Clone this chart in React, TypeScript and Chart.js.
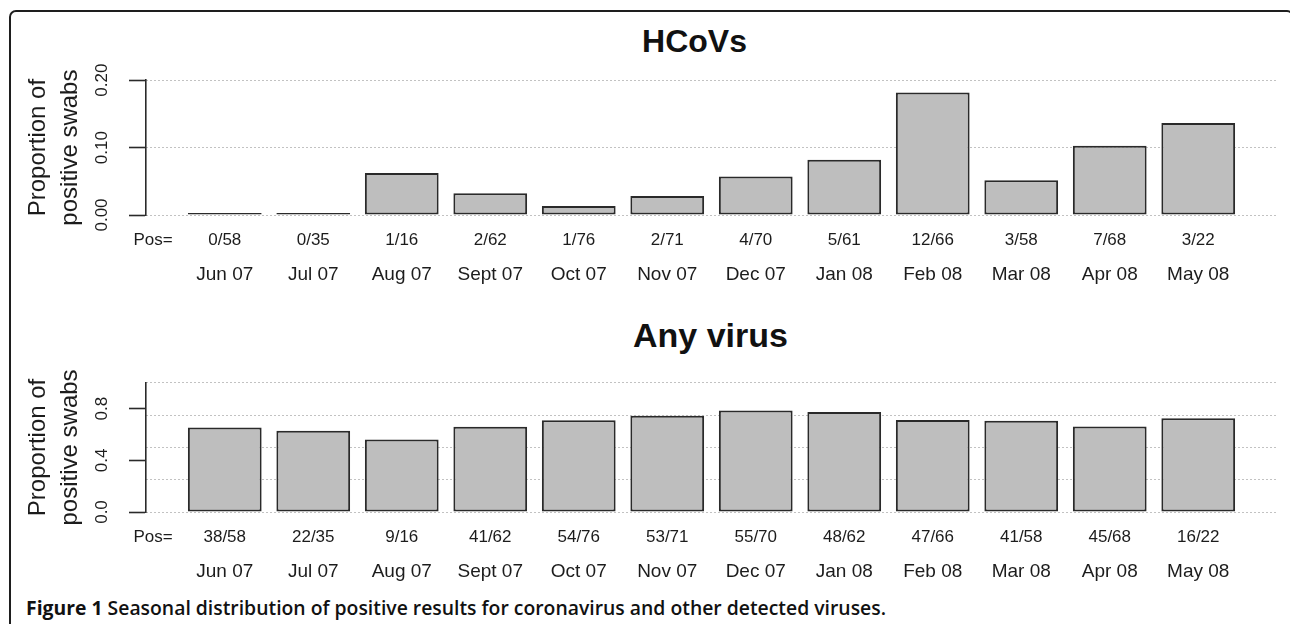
import React, { useEffect, useLayoutEffect, useRef } from "react";
import { Chart, registerables } from "chart.js";

Chart.register(...registerables);

// ---------- data ----------
const MONTHS = ["Jun 07", "Jul 07", "Aug 07", "Sept 07", "Oct 07", "Nov 07", "Dec 07", "Jan 08", "Feb 08", "Mar 08", "Apr 08", "May 08"];

const HCOV_POS = ["0/58", "0/35", "1/16", "2/62", "1/76", "2/71", "4/70", "5/61", "12/66", "3/58", "7/68", "3/22"];
const HCOV_VALUES = [0, 0, 0.0625, 0.0323, 0.0132, 0.0282, 0.0571, 0.082, 0.1818, 0.0517, 0.1029, 0.1364];
const HCOV_Y_LABELS = ["0.00", "", "0.10", "", "0.20"];

const ANY_POS = ["38/58", "22/35", "9/16", "41/62", "54/76", "53/71", "55/70", "48/62", "47/66", "41/58", "45/68", "16/22"];
const ANY_VALUES = [0.655, 0.629, 0.5625, 0.661, 0.711, 0.746, 0.786, 0.774, 0.712, 0.707, 0.662, 0.727];
const ANY_Y_LABELS = ["0.0", "", "0.4", "", "0.8", ""];

const POS_PREFIX = "Pos=";
const Y_TITLE = ["Proportion of", "positive swabs"];
const CAPTION_BOLD = "Figure 1";
const CAPTION_TEXT = " Seasonal distribution of positive results for coronavirus and other detected viruses.";

// ---------- layout / style ----------
const FONT = "'Liberation Sans', Arial, Helvetica, sans-serif";
const INK = "#1c1c1c";
const BAR_FILL = "#bebebe";
const BAR_EDGE = "#2a2a2a";
const GRID = "#c2c2c2";
const X_MIN = -0.89;
const X_MAX = 11.89;
const POS_LABEL_X = -0.81;

type PanelProps = {
  values: number[];
  posLabels: string[];
  yMax: number;
  yStep: number;
  yLabels: string[];
  gridStep: number;
  yTickPadding: number;
  top: number;
  height: number;
};

function BarPanel(p: PanelProps) {
  const ref = useRef<HTMLCanvasElement>(null);
  useEffect(() => {
    const chart = new Chart(ref.current as HTMLCanvasElement, {
      type: "bar",
      data: {
        datasets: [
          {
            data: p.values.map((v, i) => ({ x: i, y: v })),
            xAxisID: "x",
            yAxisID: "y",
            backgroundColor: BAR_FILL,
            borderColor: BAR_EDGE,
            borderWidth: 2,
            borderSkipped: false,
            minBarLength: 2,
            barPercentage: 1 / 1.2,
            categoryPercentage: 1,
          } as any,
        ],
      },
      options: {
        responsive: false,
        animation: false,
        layout: { padding: { top: 20, left: 0, right: 13, bottom: 0 } },
        plugins: { legend: { display: false }, tooltip: { enabled: false }, title: { display: false } },
        scales: {
          xPos: {
            type: "linear",
            axis: "x",
            position: "bottom",
            weight: 1,
            offset: false,
            min: X_MIN,
            max: X_MAX,
            grid: { display: false, drawTicks: false, offset: false },
            border: { display: false },
            afterBuildTicks: (s: any) => {
              s.ticks = [{ value: POS_LABEL_X }, ...p.posLabels.map((_, i) => ({ value: i }))];
            },
            afterFit: (s: any) => {
              s.height = 40;
            },
            ticks: {
              autoSkip: false,
              maxRotation: 0,
              minRotation: 0,
              padding: 17,
              color: INK,
              font: { family: FONT, size: 17, lineHeight: 1 },
              callback: (_v: any, i: number) => (i === 0 ? POS_PREFIX : p.posLabels[i - 1]),
            },
          },
          x: {
            type: "linear",
            position: "bottom",
            weight: 2,
            offset: false,
            min: X_MIN,
            max: X_MAX,
            grid: { display: false, drawTicks: false, offset: false },
            border: { display: false },
            afterBuildTicks: (s: any) => {
              s.ticks = MONTHS.map((_, i) => ({ value: i }));
            },
            afterFit: (s: any) => {
              s.height = 40;
            },
            ticks: {
              autoSkip: false,
              maxRotation: 0,
              minRotation: 0,
              padding: 10,
              color: INK,
              font: { family: FONT, size: 19, lineHeight: 1 },
              callback: (_v: any, i: number) => MONTHS[i],
            },
          },
          y: {
            type: "linear",
            position: "left",
            min: 0,
            max: p.yMax,
            ticks: {
              stepSize: p.yStep,
              minRotation: 90,
              maxRotation: 90,
              crossAlign: "center",
              padding: p.yTickPadding,
              color: INK,
              font: { family: FONT, size: 17, lineHeight: 1.2 },
              callback: (_v: any, i: number) => p.yLabels[i] ?? "",
            },
            grid: {
              drawOnChartArea: false,
              drawTicks: true,
              tickLength: 17,
              tickColor: BAR_EDGE,
              tickWidth: 1.6,
            },
            border: { display: true, color: BAR_EDGE, width: 1.6 },
            title: {
              display: true,
              text: Y_TITLE,
              color: INK,
              font: { family: FONT, size: 24, lineHeight: 1.354 },
              padding: { top: 22, bottom: 0 },
            },
            afterFit: (s: any) => {
              s.width = 146;
            },
          },
          y2: {
            type: "linear",
            position: "right",
            min: 0,
            max: p.yMax,
            ticks: { display: false, stepSize: p.gridStep },
            grid: { drawTicks: false, color: GRID, lineWidth: 1 },
            border: { display: false, dash: [2, 2] },
          },
        },
      } as any,
    });
    return () => chart.destroy();
  }, []);
  return (
    <canvas
      ref={ref}
      width={1290}
      height={p.height}
      style={{ position: "absolute", left: 0, top: p.top, width: 1290, height: p.height, display: "block" }}
    />
  );
}

function Caption() {
  const ref = useRef<HTMLSpanElement>(null);
  useLayoutEffect(() => {
    const el = ref.current;
    if (!el) return;
    const w = el.getBoundingClientRect().width;
    if (w > 0) el.style.transform = `scaleX(${860 / w})`;
  }, []);
  return (
    <div
      style={{
        position: "absolute",
        left: 26,
        top: 597.5,
        whiteSpace: "nowrap",
        fontFamily: "'Open Sans', 'Noto Sans', sans-serif",
        fontSize: 19.6,
        lineHeight: 1,
        color: "#111",
      }}
    >
      <span ref={ref} style={{ display: "inline-block", transformOrigin: "left center" }}>
        <span style={{ fontWeight: 700 }}>{CAPTION_BOLD}</span>
        <span style={{ fontWeight: 600 }}>{CAPTION_TEXT}</span>
      </span>
    </div>
  );
}

export default function App() {
  return (
    <div
      style={{
        position: "fixed",
        left: 0,
        top: 0,
        width: 1290,
        height: 624,
        overflow: "hidden",
        background: "#fff",
      }}
    >
      <div
        style={{
          position: "absolute",
          left: 9,
          top: 10,
          width: 1285,
          height: 700,
          boxSizing: "border-box",
          border: "2px solid #1e1e1e",
          borderRadius: "7px 7px 0 0",
        }}
      />
      <div
        style={{
          position: "absolute",
          left: 0,
          top: 24.6,
          width: 1389,
          textAlign: "center",
          fontFamily: FONT,
          fontWeight: 700,
          fontSize: 32,
          lineHeight: 1,
          color: "#111",
        }}
      >
        HCoVs
      </div>
      <BarPanel
        values={HCOV_VALUES}
        posLabels={HCOV_POS}
        yMax={0.2}
        yStep={0.05}
        yLabels={HCOV_Y_LABELS}
        gridStep={0.1}
        yTickPadding={10}
        top={60}
        height={235}
      />
      <div
        style={{
          position: "absolute",
          left: 0,
          top: 317.9,
          width: 1421,
          textAlign: "center",
          fontFamily: FONT,
          fontWeight: 700,
          fontSize: 34,
          lineHeight: 1,
          color: "#111",
        }}
      >
        Any virus
      </div>
      <BarPanel
        values={ANY_VALUES}
        posLabels={ANY_POS}
        yMax={1}
        yStep={0.2}
        yLabels={ANY_Y_LABELS}
        gridStep={0.25}
        yTickPadding={14.7}
        top={358}
        height={234}
      />
      <Caption />
    </div>
  );
}
